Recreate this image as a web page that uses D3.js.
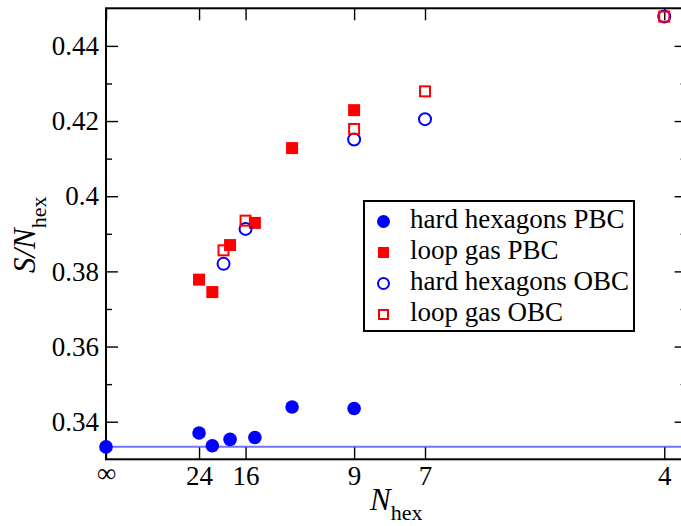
<!DOCTYPE html>
<html>
<head>
<meta charset="utf-8">
<script src="https://cdn.jsdelivr.net/npm/d3@7"></script>
<style>
  body { margin: 0; background: #fff; }
  svg text { font-family: "Liberation Serif", "Times New Roman", serif; }
</style>
</head>
<body>
<svg id="chart" width="681" height="526"></svg>
<script>
// x axis is 1/N_hex, so N = Infinity sits at the origin
const xTickN = [Infinity, 24, 16, 9, 7, 4];
const xTickLabels = ["\u221e", "24", "16", "9", "7", "4"];
const yTicks = [0.34, 0.36, 0.38, 0.40, 0.42, 0.44];
const yMinorTicks = [0.35, 0.37, 0.39, 0.41, 0.43];

const hardPbcN = [Infinity, 24, 21, 18, 15, 12, 9];
const hardPbcS = [0.3333, 0.3370, 0.3336, 0.3353, 0.3358, 0.3439, 0.3435];
const loopPbcN = [24, 21, 18, 15, 12, 9];
const loopPbcS = [0.3778, 0.3745, 0.3870, 0.3929, 0.4128, 0.4229];
const hardObcN = [19, 16, 9, 7, 4];
const hardObcS = [0.3820, 0.3913, 0.4151, 0.4205, 0.4478];
const loopObcN = [19, 16, 9, 7, 4];
const loopObcS = [0.3856, 0.3935, 0.4179, 0.4279, 0.4478];
const refLine = 1 / 3;

const legendLabels = ["hard hexagons PBC", "loop gas PBC", "hard hexagons OBC", "loop gas OBC"];

const blue = "#0000ff", red = "#ff0000";
const serif = '"Liberation Serif", "Times New Roman", serif';
const svg = d3.select("#chart");

const x = d3.scaleLinear().domain([0, 0.26]).range([106, 686.6]);
const y = d3.scaleLinear().domain([0.33, 0.45]).range([459.3, 8.3]);
const inv = n => 1 / n;

// reference line S/N = 1/3
svg.append("line")
    .attr("x1", x(0)).attr("x2", x(0.26))
    .attr("y1", y(refLine)).attr("y2", y(refLine))
    .attr("stroke", "#7373ff").attr("stroke-width", 1.8);

// axes
function styleAxis(g) {
    g.select(".domain").remove();
    g.attr("font-family", serif).attr("font-size", 27);
    g.selectAll(".tick line").attr("stroke", "#000").attr("stroke-width", 1.4);
    g.selectAll("text").attr("fill", "#000");
}

svg.append("g")
    .attr("transform", `translate(0,${y(0.33)})`)
    .call(d3.axisBottom(x).tickValues(xTickN.map(inv))
        .tickFormat((d, i) => xTickLabels[i]).tickSizeInner(-12).tickSizeOuter(0).tickPadding(7))
    .call(styleAxis)
    .call(g => g.selectAll(".tick text").filter(d => d === 0).attr("dy", "0.58em"));   // infinity sits a bit higher

svg.append("g")
    .attr("transform", `translate(0,${y(0.45)})`)
    .call(d3.axisTop(x).tickValues(xTickN.map(inv)).tickFormat("").tickSizeInner(-12).tickSizeOuter(0))
    .call(styleAxis);

svg.append("g")
    .attr("transform", `translate(${x(0)},0)`)
    .call(d3.axisLeft(y).tickValues(yTicks).tickFormat(d3.format(".2~f"))
        .tickSizeInner(-12).tickSizeOuter(0).tickPadding(7))
    .call(styleAxis);

svg.append("g")
    .attr("transform", `translate(${x(0)},0)`)
    .call(d3.axisLeft(y).tickValues(yMinorTicks).tickFormat("").tickSizeInner(-6).tickSizeOuter(0))
    .call(styleAxis);

svg.append("g")
    .attr("transform", `translate(${x(0.26)},0)`)
    .call(d3.axisRight(y).tickValues(yTicks).tickFormat("").tickSizeInner(-12).tickSizeOuter(0))
    .call(styleAxis);

svg.append("g")
    .attr("transform", `translate(${x(0.26)},0)`)
    .call(d3.axisRight(y).tickValues(yMinorTicks).tickFormat("").tickSizeInner(-6).tickSizeOuter(0))
    .call(styleAxis);

// frame
svg.append("rect")
    .attr("x", x(0)).attr("y", y(0.45))
    .attr("width", x(0.26) - x(0)).attr("height", y(0.33) - y(0.45))
    .attr("fill", "none").attr("stroke", "#000").attr("stroke-width", 2);

// series
const pts = (ns, vals) => ns.map((n, i) => ({x: inv(n), s: vals[i]}));

svg.append("g").selectAll("circle")
    .data(pts(hardPbcN, hardPbcS)).join("circle")
    .attr("cx", d => x(d.x)).attr("cy", d => y(d.s)).attr("r", 6.8)
    .attr("fill", blue);

svg.append("g").selectAll("rect")
    .data(pts(loopPbcN, loopPbcS)).join("rect")
    .attr("x", d => x(d.x) - 6).attr("y", d => y(d.s) - 6)
    .attr("width", 12).attr("height", 12)
    .attr("fill", red);

svg.append("g").selectAll("circle")
    .data(pts(hardObcN, hardObcS)).join("circle")
    .attr("cx", d => x(d.x)).attr("cy", d => y(d.s)).attr("r", 6)
    .attr("fill", "none").attr("stroke", blue).attr("stroke-width", 2);

svg.append("g").selectAll("rect")
    .data(pts(loopObcN, loopObcS)).join("rect")
    .attr("x", d => x(d.x) - 5).attr("y", d => y(d.s) - 5)
    .attr("width", 10).attr("height", 10)
    .attr("fill", "none").attr("stroke", red).attr("stroke-width", 2);

// legend
const legend = svg.append("g").attr("transform", "translate(364,201)");
legend.append("rect")
    .attr("width", 270).attr("height", 130)
    .attr("fill", "#fff").attr("stroke", "#000").attr("stroke-width", 2);

const rows = legend.selectAll("g.row")
    .data(legendLabels).join("g").attr("class", "row")
    .attr("transform", (d, i) => `translate(0,${20.5 + i * 31})`);

rows.append("text")
    .attr("x", 46).attr("y", 6)
    .attr("font-family", serif).attr("font-size", 27).attr("fill", "#000")
    .text(d => d);

rows.filter((d, i) => i === 0).append("circle")
    .attr("cx", 19.5).attr("r", 6.5).attr("fill", blue);
rows.filter((d, i) => i === 1).append("rect")
    .attr("x", 14).attr("y", -5.5).attr("width", 11).attr("height", 11).attr("fill", red);
rows.filter((d, i) => i === 2).append("circle")
    .attr("cx", 19.5).attr("r", 5.5).attr("fill", "none").attr("stroke", blue).attr("stroke-width", 2);
rows.filter((d, i) => i === 3).append("rect")
    .attr("x", 15).attr("y", -4.5).attr("width", 9).attr("height", 9)
    .attr("fill", "none").attr("stroke", red).attr("stroke-width", 2);

// axis titles
const xTitle = svg.append("text").attr("x", 370).attr("y", 510)
    .attr("font-family", serif).attr("fill", "#000");
xTitle.append("tspan").attr("font-size", 31).attr("font-style", "italic").text("N");
xTitle.append("tspan").attr("dy", 10).attr("font-size", 22).text("hex");

const yTitle = svg.append("text")
    .attr("transform", "translate(35,273) rotate(-90)")
    .attr("font-family", serif).attr("fill", "#000");
yTitle.append("tspan").attr("font-size", 31).attr("font-style", "italic").text("S/N");
yTitle.append("tspan").attr("dy", 11).attr("font-size", 22).text("hex");
</script>
</body>
</html>
